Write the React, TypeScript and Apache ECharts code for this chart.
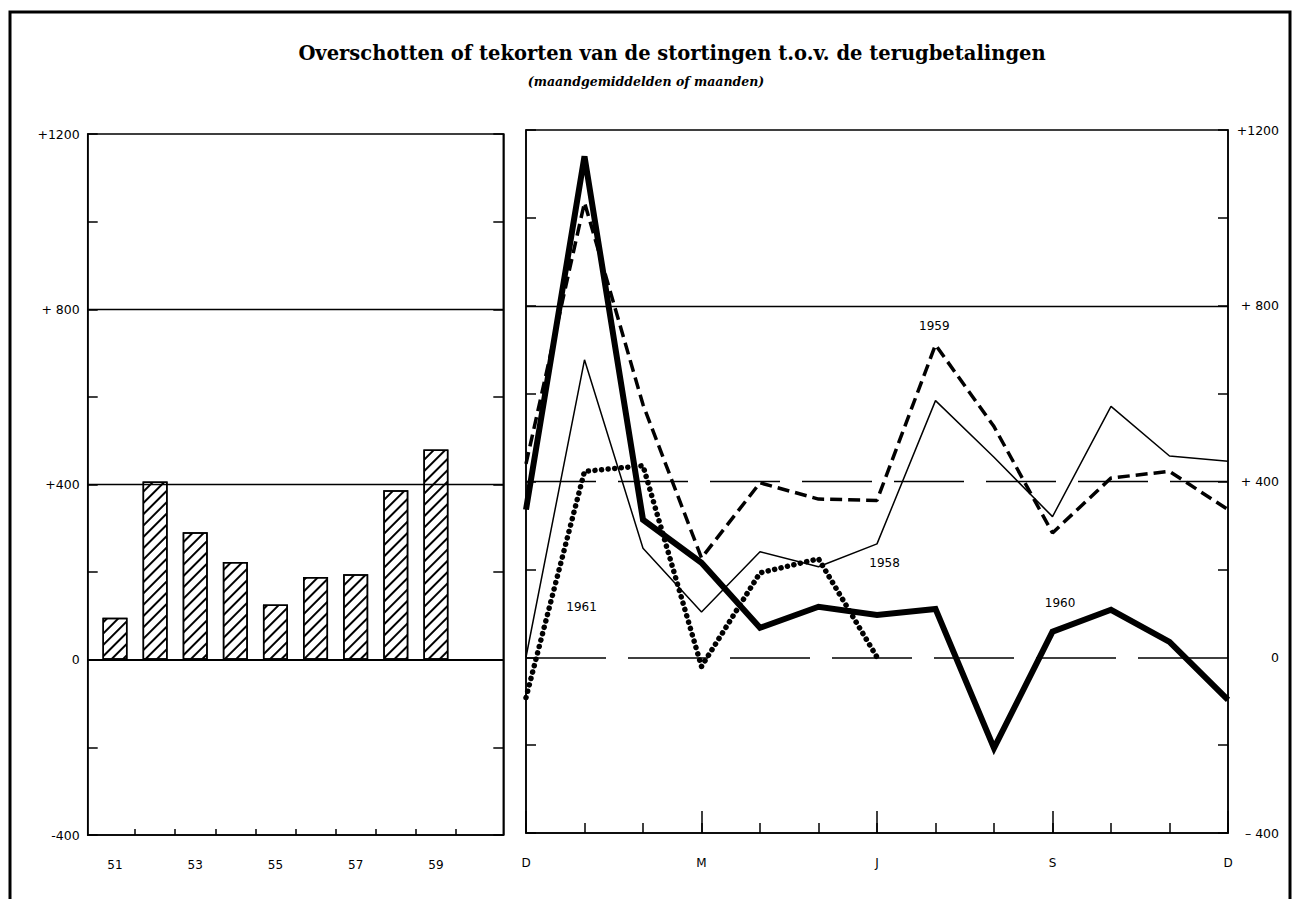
import React, { useEffect, useRef } from 'react';
import * as echarts from 'echarts';

// Left panel: yearly (monthly averages) 1951-1959
const years = [51, 52, 53, 54, 55, 56, 57, 58, 59];
const yearlyAvg = [96, 407, 291, 223, 126, 189, 195, 387, 480];
const yearLabelValues = [51, 53, 55, 57, 59];
const yearTickValues = [51.5, 52.5, 53.5, 54.5, 55.5, 56.5, 57.5, 58.5, 59.5];

// Right panel: months December .. December
const monthIdx = [0, 1, 2, 3, 4, 5, 6, 7, 8, 9, 10, 11, 12];
const monthLabels = ['D', '', '', 'M', '', '', 'J', '', '', 'S', '', '', 'D'];
const s1958 = [0, 677, 248, 103, 240, 206, 258, 584, 455, 320, 571, 458, 446];
const s1959 = [440, 1035, 575, 226, 397, 360, 357, 711, 525, 283, 408, 423, 336];
const s1960 = [336, 1140, 313, 215, 67, 115, 96, 110, -207, 58, 108, 35, -97];
const s1961 = [-92, 423, 436, -21, 192, 224, 0];

const leftTickLabels: Record<string, string> = { '1200': '+1200', '800': '+ 800', '400': '+400', '0': '0', '-400': '-400' };
const rightTickLabels: Record<string, string> = { '1200': '+1200', '800': '+ 800', '400': '+ 400', '0': '0', '-400': '\u2013 400' };

const TITLE = 'Overschotten of tekorten van de stortingen t.o.v. de terugbetalingen';
const SUBTITLE = '(maandgemiddelden of maanden)';

const pairs = (vals: number[]) => vals.map((v, i) => [monthIdx[i], v]);

const labelFont = { fontFamily: 'DejaVu Sans', fontSize: 12, color: '#000' };

function yearNote(text: string, coord: number[]) {
  return {
    symbol: 'circle',
    symbolSize: 1,
    silent: true,
    itemStyle: { color: 'rgba(0,0,0,0)' },
    label: { show: true, position: 'inside', formatter: text, ...labelFont },
    data: [{ coord }],
  };
}

export default function App() {
  const ref = useRef<HTMLDivElement>(null);
  useEffect(() => {
    if (!ref.current) return;
    const chart = echarts.init(ref.current, null, { renderer: 'svg' });
    const axisLine = { show: true, onZero: false, lineStyle: { color: '#000', width: 1.5 } };
    const yBase = {
      type: 'value',
      min: -400,
      max: 1200,
      interval: 200,
      splitLine: { show: false },
      axisLine,
      axisTick: { show: true, inside: true, length: 10, lineStyle: { color: '#000', width: 1.5 } },
    };
    const option: any = {
      animation: false,
      backgroundColor: '#fff',
      graphic: [
        {
          type: 'polyline',
          silent: true,
          shape: { points: [[10, 899], [10, 12], [1290, 12], [1290, 899]] },
          style: { stroke: '#000', lineWidth: 3, fill: null },
        },
        {
          type: 'text',
          silent: true,
          x: 672,
          y: 53,
          style: {
            text: TITLE,
            align: 'center',
            verticalAlign: 'middle',
            fontFamily: 'DejaVu Serif',
            fontWeight: 'bold',
            fontSize: 19.5,
            fill: '#000',
          },
        },
        {
          type: 'text',
          silent: true,
          x: 646,
          y: 81,
          style: {
            text: SUBTITLE,
            align: 'center',
            verticalAlign: 'middle',
            fontFamily: 'DejaVu Serif',
            fontStyle: 'italic',
            fontWeight: 'bold',
            fontSize: 12.5,
            fill: '#000',
          },
        },
      ],
      grid: [
        { left: 87.7, top: 134, width: 415.6, height: 701, show: true, borderColor: '#000', borderWidth: 1.5, containLabel: false },
        { left: 526, top: 130, width: 702, height: 703, show: true, borderColor: '#000', borderWidth: 1.5, containLabel: false },
      ],
      xAxis: [
        {
          gridIndex: 0,
          type: 'value',
          min: 50.32,
          max: 60.68,
          position: 'bottom',
          splitLine: { show: false },
          axisLine,
          axisTick: { show: true, inside: true, length: 6, customValues: yearTickValues, lineStyle: { color: '#000', width: 1.5 } },
          axisLabel: { show: true, customValues: yearLabelValues, formatter: (v: number) => String(v), margin: 24, ...labelFont },
        },
        {
          gridIndex: 1,
          type: 'value',
          min: 0,
          max: 12,
          interval: 1,
          position: 'bottom',
          splitLine: { show: false },
          axisLine,
          axisTick: { show: true, inside: true, length: 10, lineStyle: { color: '#000', width: 1.5 } },
          axisLabel: { show: true, formatter: (v: number) => monthLabels[v] ?? '', margin: 24, showMinLabel: true, showMaxLabel: true, ...labelFont },
        },
        {
          gridIndex: 1,
          type: 'value',
          min: 0,
          max: 12,
          interval: 3,
          position: 'bottom',
          splitLine: { show: false },
          axisLine: { show: false, onZero: false },
          axisTick: { show: true, inside: true, length: 22, lineStyle: { color: '#000', width: 1.5 } },
          axisLabel: { show: false },
        },
      ],
      yAxis: [
        {
          ...yBase,
          gridIndex: 0,
          position: 'left',
          axisLabel: { show: true, margin: 8, formatter: (v: number) => leftTickLabels[String(v)] ?? '', ...labelFont, fontSize: 12.5 },
        },
        { ...yBase, gridIndex: 0, position: 'right', axisLabel: { show: false } },
        { ...yBase, gridIndex: 1, position: 'left', axisLabel: { show: false } },
        {
          ...yBase,
          gridIndex: 1,
          position: 'right',
          axisLabel: { show: true, margin: 51, align: 'right', formatter: (v: number) => rightTickLabels[String(v)] ?? '', ...labelFont, fontSize: 12.5 },
        },
      ],
      series: [
        {
          name: 'grid-left',
          type: 'line',
          xAxisIndex: 0,
          yAxisIndex: 0,
          data: [],
          z: 1,
          silent: true,
          markLine: {
            silent: true,
            symbol: ['none', 'none'],
            label: { show: false },
            data: [
              { yAxis: 800, lineStyle: { color: '#000', width: 1.3, type: 'solid' } },
              { yAxis: 400, lineStyle: { color: '#000', width: 1.3, type: 'solid' } },
              { yAxis: 0, lineStyle: { color: '#000', width: 2, type: 'solid' } },
            ],
          },
        },
        {
          name: 'yearly',
          type: 'bar',
          xAxisIndex: 0,
          yAxisIndex: 0,
          z: 2,
          barWidth: 25,
          data: years.map((y, i) => [y, yearlyAvg[i]]),
          itemStyle: {
            color: '#fff',
            borderColor: '#000',
            borderWidth: 1.5,
            decal: {
              symbol: 'rect',
              symbolSize: 1,
              color: '#000',
              backgroundColor: '#fff',
              dashArrayX: [1, 0],
              dashArrayY: [1.1, 5.5],
              rotation: -Math.PI / 4,
            },
          },
        },
        {
          name: 'grid-right',
          type: 'line',
          xAxisIndex: 1,
          yAxisIndex: 2,
          data: [],
          z: 1,
          silent: true,
          markLine: {
            silent: true,
            symbol: ['none', 'none'],
            label: { show: false },
            data: [
              { yAxis: 800, lineStyle: { color: '#000', width: 1.3, type: 'solid' } },
              { yAxis: 400, lineStyle: { color: '#000', width: 1.3, type: [70, 22] } },
              { yAxis: 0, lineStyle: { color: '#000', width: 1.5, type: [80, 22] } },
            ],
          },
        },
        {
          name: '1961',
          type: 'line',
          xAxisIndex: 1,
          yAxisIndex: 2,
          z: 3,
          symbol: 'none',
          data: pairs(s1961),
          lineStyle: { color: '#000', width: 5.5, type: [0.1, 6.5], cap: 'round', join: 'round' },
          markPoint: yearNote('1961', [0.95, 115]),
        },
        {
          name: '1958',
          type: 'line',
          xAxisIndex: 1,
          yAxisIndex: 2,
          z: 3,
          symbol: 'none',
          data: pairs(s1958),
          lineStyle: { color: '#000', width: 1.5, type: 'solid' },
          markPoint: yearNote('1958', [6.13, 215]),
        },
        {
          name: '1959',
          type: 'line',
          xAxisIndex: 1,
          yAxisIndex: 2,
          z: 4,
          symbol: 'none',
          data: pairs(s1959),
          lineStyle: { color: '#000', width: 3.5, type: [12, 6] },
          markPoint: yearNote('1959', [6.98, 755]),
        },
        {
          name: '1960',
          type: 'line',
          xAxisIndex: 1,
          yAxisIndex: 2,
          z: 5,
          symbol: 'none',
          data: pairs(s1960),
          lineStyle: { color: '#000', width: 6, type: 'solid', join: 'miter' },
          markPoint: yearNote('1960', [9.13, 124]),
        },
      ],
    };
    chart.setOption(option);
    return () => chart.dispose();
  }, []);
  return <div ref={ref} style={{ position: 'fixed', left: 0, top: 0, width: 1294, height: 899 }} />;
}
